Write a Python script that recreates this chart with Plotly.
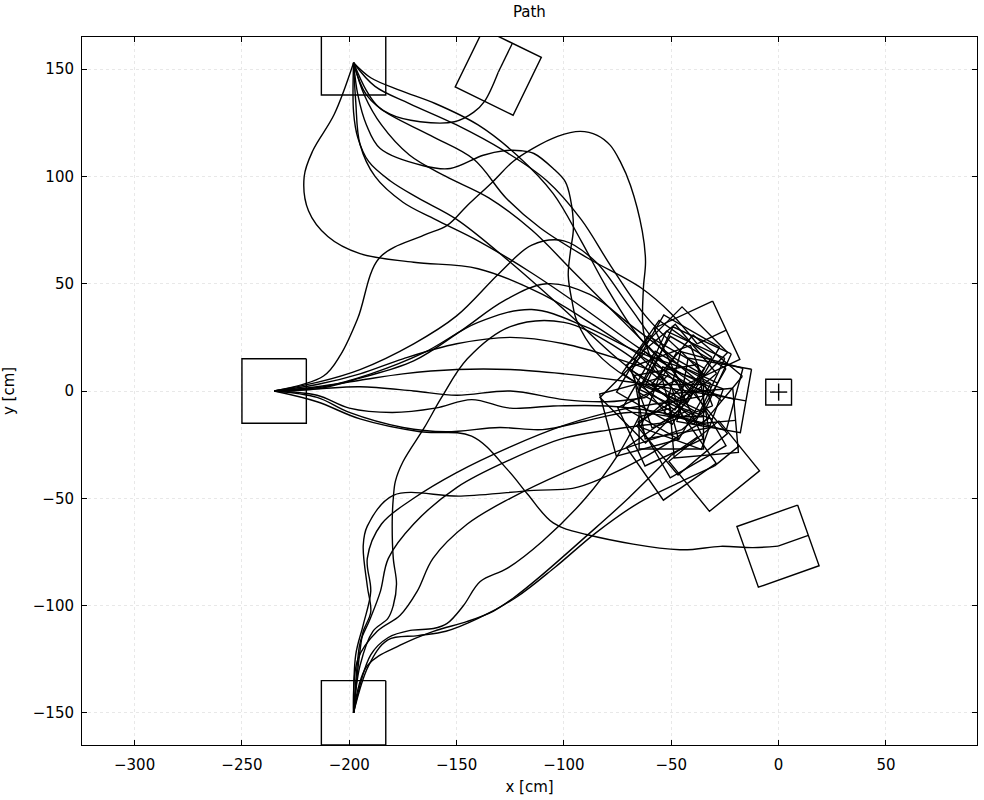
import numpy as np
import plotly.graph_objects as go

# ---------------- data ----------------
x_ticks = [-300, -250, -200, -150, -100, -50, 0, 50]
y_ticks = [-150, -100, -50, 0, 50, 100, 150]
x_range = [-324.5, 92.4]
y_range = [-165.0, 165.0]

robot_size = 30.0
target_center = (0.0, -0.5)
target_size = 12.0
target_cross = 4.0

start_top = (-198.0, 153.0)
start_left = (-235.0, 0.0)
start_bottom = (-198.0, -150.0)

# paths starting from the top start
path_t1 = [(-198, 153), (-192, 138), (-181, 129), (-167, 125.5), (-151, 125.5), (-142, 130), (-137, 135), (-130.6, 148.6)]
path_t2 = [(-198, 153), (-207, 129), (-217, 112), (-221, 100), (-219, 84), (-210, 72), (-195, 64), (-170, 60), (-140, 57), (-110, 45), (-85, 30), (-62, 15), (-45, 5)]
path_t3 = [(-198, 153), (-192, 140), (-186, 132), (-162, 119), (-142, 108), (-127, 90), (-111, 76), (-89, 62), (-64, 48), (-50, 36), (-38, 22)]
path_t4 = [(-198, 153), (-197, 135), (-195, 115), (-188, 100), (-175, 88), (-160, 80), (-140, 70), (-115, 55), (-90, 38), (-65, 20), (-45, 8)]
path_t5 = [(-198, 153), (-193, 138), (-185, 124), (-172, 110), (-155, 100), (-135, 90), (-115, 75), (-95, 55), (-72, 32), (-52, 12)]
path_t6 = [(-198, 153), (-188, 142), (-172, 134), (-150, 124), (-128, 112), (-108, 98), (-92, 80), (-78, 58), (-62, 35), (-45, 18)]
path_t7 = [(-198, 153), (-190, 146), (-176, 140), (-160, 134), (-140, 124), (-122, 110), (-105, 92), (-92, 70), (-80, 48), (-65, 25), (-50, 10)]
path_t8 = [(-198, 153), (-196, 138), (-192, 124), (-185.6, 113), (-165.5, 105), (-153, 103.7), (-137.6, 109.9), (-128, 112), (-120, 112), (-114, 110.7), (-105, 103.7), (-99.4, 97.6), (-97, 89.7), (-95.6, 75.8), (-97, 65), (-98, 53.9), (-96.2, 41.7), (-93.9, 32.4), (-85, 18), (-70, 6), (-52, -2)]
path_t9 = [(-198, 153), (-198, 130), (-196, 118), (-191, 107), (-181, 98), (-168, 90), (-150, 80), (-125, 60), (-100, 38), (-75, 15), (-45, -8)]

# paths starting from the left start
path_l1 = [(-235, 0), (-212, 7), (-204, 17), (-196, 34), (-186, 62), (-165.5, 72.5), (-154.4, 77.2), (-145, 86.5), (-133, 97.7), (-123.7, 107), (-114.4, 113.1), (-103, 118.7), (-92.4, 121), (-84.5, 119.2), (-78.4, 114.5), (-73.8, 107), (-69, 95.8), (-63.5, 74.4), (-62, 60.4), (-63, 47.8), (-63, 28), (-58, 12), (-50, 2)]
path_l2 = [(-235, 0), (-215, -5), (-195, -13), (-167, -19), (-143, -21), (-126, -37), (-117, -48), (-105, -61.5), (-89, -67), (-46, -74), (-27, -72.4), (-12, -73), (-0.3, -72.3)]
path_l3 = [(-235, 0), (-215, 4), (-195, 10), (-170, 22), (-150, 35), (-130, 55), (-115, 68), (-100, 70), (-85, 60), (-70, 40), (-55, 20), (-38, 5)]
path_l4 = [(-235, 0), (-215, 3), (-195, 8), (-175, 15), (-150, 22), (-125, 25), (-100, 22), (-75, 15), (-55, 8), (-35, 0)]
path_l5 = [(-235, 0), (-215, 2), (-195, 5), (-175, 8), (-150, 10), (-125, 10), (-100, 8), (-75, 5), (-55, 2), (-30, -2)]
path_l6 = [(-235, 0), (-215, 1), (-195, 2), (-170, 0), (-150, -2), (-125, 0), (-100, -4), (-80, -5), (-62, -3)]
path_l7 = [(-235, 0), (-215, -2), (-200, -8), (-180, -10), (-160, -8), (-143, -4), (-125, -8), (-105, -7), (-80, -7), (-55, -10), (-35, -15)]
path_l8 = [(-235, 0), (-215, -3), (-200, -10), (-175, -17), (-155, -19), (-130, -17), (-110, -18), (-90, -14), (-70, -10), (-50, -12)]
path_l9 = [(-235, 0), (-215, 1), (-195, 6), (-170, 14), (-148, 28), (-128, 42), (-108, 50), (-88, 45), (-68, 30), (-48, 15)]
path_l10 = [(-235, 0), (-212, 2), (-190, 8), (-165, 18), (-140, 32), (-115, 38), (-90, 30), (-65, 18), (-42, 10)]

# paths starting from the bottom start
path_b1 = [(-198, -150), (-195, -128), (-189, -112), (-182, -106), (-179.5, -100), (-178, -90), (-179.5, -78), (-180, -61), (-179.5, -50), (-178.5, -42), (-175, -33), (-165, -17), (-157, -3), (-145, 15), (-125, 30), (-100, 32), (-75, 20), (-55, 5)]
path_b2 = [(-198, -150), (-195, -121), (-193.5, -112), (-190, -103), (-191.6, -91), (-193.5, -72), (-191.6, -63), (-179.5, -48.6), (-148, -49), (-114, -46.3), (-96, -45.4), (-83, -41), (-61, -30), (-45, -20)]
path_b3 = [(-198, -150), (-191.6, -128), (-176.3, -118.5), (-160.8, -112), (-145, -107.4), (-133, -102.7), (-123.7, -96.6), (-111, -86.4), (-90, -68), (-70, -50), (-50, -30)]
path_b4 = [(-198, -150), (-196, -125), (-187, -112), (-176.3, -104.5), (-168.4, -93.4), (-161, -78), (-145, -62), (-125, -50), (-100, -38), (-75, -28), (-45, -18)]
path_b5 = [(-198, -150), (-196, -124.6), (-194.8, -116.7), (-190.2, -106), (-185.5, -93.4), (-181.8, -78), (-170, -62), (-150, -45), (-125, -32), (-100, -22), (-78, -18), (-55, -15)]
path_b6 = [(-198, -150), (-190, -123), (-182, -115), (-171.6, -111.6), (-160.8, -110.7), (-154.4, -108.3), (-146.8, -100), (-139, -88.8), (-126.5, -82.7), (-110, -70), (-90, -50), (-75, -30), (-65, -12)]
path_b7 = [(-198, -150), (-191, -128), (-182, -116), (-168, -114), (-155, -112), (-140, -106), (-122, -96), (-104, -82), (-85, -66), (-65, -52), (-45, -42), (-30, -35)]
path_b8 = [(-198, -150), (-197, -123), (-193.5, -109), (-190, -93.4), (-191.6, -78), (-185, -62), (-170, -50), (-150, -38), (-125, -26), (-100, -16), (-75, -9), (-50, -5)]

# heading (deg) of the robot at the end of each path, same order as the list below
end_heading = [64, -30, 25, -25, -35, -45, -50, -30, -20,
               -70, 19.5, -40, -15, -10, 45, 5, 0, -30, -25,
               60, 30, 35, 40, 25, 15, 39, 10]

paths = [path_t1, path_t2, path_t3, path_t4, path_t5, path_t6, path_t7, path_t8, path_t9,
         path_l1, path_l2, path_l3, path_l4, path_l5, path_l6, path_l7, path_l8, path_l9, path_l10,
         path_b1, path_b2, path_b3, path_b4, path_b5, path_b6, path_b7, path_b8]

# ---------------- figure ----------------
fig = go.Figure()
LINE = dict(color="black", width=1.4)
FONT = "DejaVu Sans, Liberation Sans, Arial, sans-serif"


def square_outline(cx, cy, size, ang_deg):
    h = size / 2.0
    a = np.deg2rad(ang_deg)
    local = np.array([[h, h], [-h, h], [-h, -h], [h, -h], [h, h]])
    rot = np.array([[np.cos(a), -np.sin(a)], [np.sin(a), np.cos(a)]])
    pts = local @ rot.T
    return list(pts[:, 0] + cx), list(pts[:, 1] + cy)


for p in paths:
    xs = [pt[0] for pt in p]
    ys = [pt[1] for pt in p]
    fig.add_trace(go.Scatter(x=xs, y=ys, mode="lines",
                             line=dict(color="black", width=1.4, shape="spline", smoothing=1.0),
                             hoverinfo="skip", showlegend=False))

# robot squares at path ends, with heading tick
for p, ang in zip(paths, end_heading):
    cx, cy = p[-1]
    sx, sy = square_outline(cx, cy, robot_size, ang)
    a = np.deg2rad(ang)
    hx = [cx, cx + robot_size / 2 * np.cos(a)]
    hy = [cy, cy + robot_size / 2 * np.sin(a)]
    fig.add_trace(go.Scatter(x=sx + [None] + hx, y=sy + [None] + hy, mode="lines",
                             line=LINE, hoverinfo="skip", showlegend=False))

# start squares
for (cx, cy) in [start_top, start_left, start_bottom]:
    sx, sy = square_outline(cx, cy, robot_size, 0)
    fig.add_trace(go.Scatter(x=sx, y=sy, mode="lines", line=LINE,
                             hoverinfo="skip", showlegend=False))

# target marker
tx, ty = target_center
sx, sy = square_outline(tx, ty, target_size, 0)
cross_x = [tx - target_cross, tx + target_cross, None, tx, tx]
cross_y = [ty, ty, None, ty - target_cross, ty + target_cross]
fig.add_trace(go.Scatter(x=sx + [None] + cross_x, y=sy + [None] + cross_y, mode="lines",
                         line=LINE, hoverinfo="skip", showlegend=False))

axis_common = dict(
    showline=True, linecolor="black", linewidth=1, mirror="ticks",
    ticks="inside", ticklen=5, tickcolor="black", tickwidth=1,
    showgrid=True, gridcolor="#e8e8e8", griddash="dot", gridwidth=1,
    zeroline=False, tickfont=dict(family=FONT, size=15, color="black"),
)

fig.update_layout(
    width=984, height=800,
    margin=dict(l=82, r=7, t=37, b=55),
    paper_bgcolor="white", plot_bgcolor="white",
    font=dict(family=FONT, size=15, color="black"),
    title=dict(text="Path", x=0.538, xanchor="center", y=0.985, yanchor="middle",
               font=dict(size=15)),
    xaxis=dict(range=x_range, tickvals=x_ticks, ticklabelstandoff=6,
               title=dict(text="x [cm]", standoff=8, font=dict(size=15)), **axis_common),
    yaxis=dict(range=y_range, tickvals=y_ticks, ticklabelstandoff=4,
               title=dict(text="y [cm]", standoff=14, font=dict(size=15)), **axis_common),
)

fig.write_html("out.html")
